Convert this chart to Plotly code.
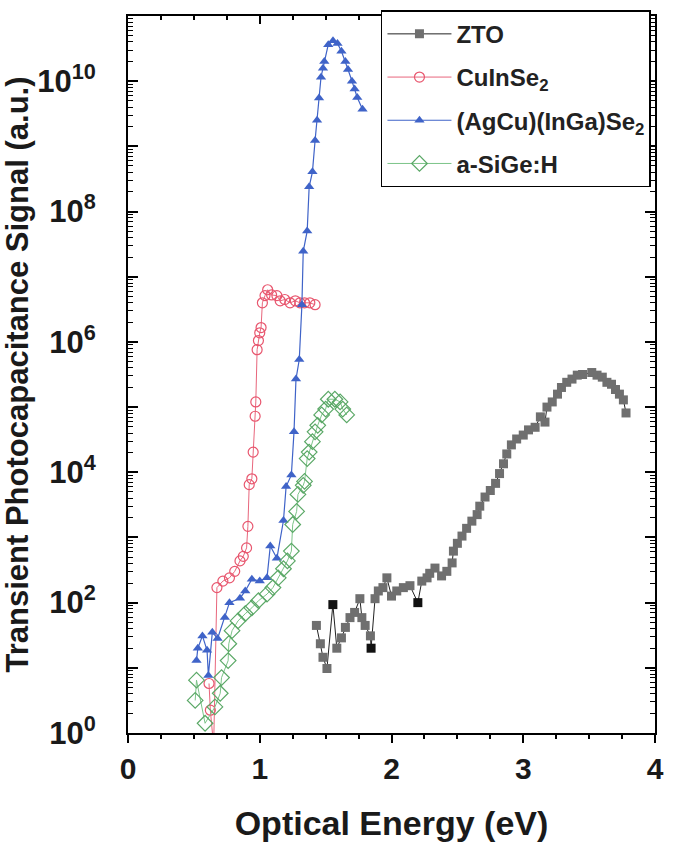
import plotly.graph_objects as go

# ---------------- data ----------------
zto_x = [1.43, 1.46, 1.48, 1.51, 1.555, 1.585, 1.62, 1.65, 1.685, 1.72, 1.76, 1.775, 1.80, 1.84,
         1.845, 1.875, 1.90, 1.935, 1.965, 2.0, 2.04, 2.09, 2.14, 2.20, 2.23, 2.27, 2.29, 2.33,
         2.38, 2.42, 2.46, 2.47, 2.50, 2.535, 2.57, 2.61, 2.65, 2.67, 2.71, 2.75, 2.79, 2.82,
         2.85, 2.875, 2.91, 2.95, 3.0, 3.04, 3.09, 3.13, 3.165, 3.18, 3.22, 3.26, 3.29, 3.33,
         3.37, 3.41, 3.45, 3.52, 3.56, 3.60, 3.635, 3.67, 3.70, 3.73, 3.76, 3.78]
zto_y = [44.7, 23.4, 14.5, 9.77, 93.3, 20.0, 28.8, 41.7, 58.9, 70.8, 115, 58.9, 44.7, 30.9,
         20.0, 115, 151, 170, 240, 126, 151, 170, 182, 100, 214, 240, 282, 339,
         257, 302, 407, 617, 813, 1050, 1380, 1780, 2240, 3020, 4170, 5250, 6760, 9550,
         1.35e4, 1.91e4, 2.63e4, 3.24e4, 3.72e4, 4.47e4, 4.90e4, 7.08e4, 5.89e4, 1.0e5, 1.20e5, 1.58e5, 2.0e5, 2.40e5,
         2.69e5, 3.09e5, 3.16e5, 3.39e5, 3.09e5, 2.88e5, 2.40e5, 2.24e5, 1.86e5, 1.58e5, 1.29e5, 8.13e4]
zto_dark_points = [4, 14, 23]  # indices of the darker squares

cis_x = [0.615, 0.625, 0.65, 0.675, 0.72, 0.77, 0.81, 0.85, 0.875, 0.90, 0.91, 0.92, 0.94, 0.95,
         0.965, 0.97, 0.98, 0.99, 1.0, 1.01, 1.02, 1.04, 1.06, 1.09, 1.13, 1.155, 1.19, 1.23,
         1.27, 1.305, 1.34, 1.38, 1.42]
cis_y = [5.75, 2.24, 0.63, 170, 214, 240, 302, 437, 513, 692, 1480, 6460, 7940, 2.04e4,
         7.24e4, 1.20e5, 7.59e5, 1.05e6, 1.38e6, 1.66e6, 3.98e6, 5.13e6, 6.31e6, 5.25e6, 5.13e6, 4.27e6, 4.47e6, 3.98e6,
         4.27e6, 3.98e6, 3.98e6, 3.98e6, 3.72e6]

acigs_x = [0.52, 0.53, 0.565, 0.60, 0.61, 0.64, 0.68, 0.735, 0.77, 0.85, 0.89, 0.94, 1.0, 1.055,
           1.08, 1.13, 1.18, 1.20, 1.24, 1.26, 1.275, 1.30, 1.32, 1.33, 1.36, 1.375, 1.40, 1.42,
           1.435, 1.45, 1.465, 1.48, 1.49, 1.52, 1.556, 1.59, 1.62, 1.65, 1.67, 1.70, 1.72, 1.74, 1.78]
acigs_y = [12.9, 20.0, 30.9, 18.6, 7.6, 35.0, 28.2, 58.9, 100, 117, 151, 229, 214, 240,
           741, 479, 1820, 6030, 9120, 4.17e4, 2.69e5, 5.37e5, 3.72e6, 2.45e7, 5.01e7, 2.40e8, 4.07e8, 1.23e9,
           2.51e9, 5.50e9, 1.15e10, 1.58e10, 2.0e10, 3.63e10, 4.17e10, 3.80e10, 2.88e10, 2.0e10, 1.51e10, 1.0e10, 7.59e9, 5.62e9, 3.72e9]

asige_x = [0.51, 0.52, 0.585, 0.66, 0.70, 0.71, 0.76, 0.765, 0.79, 0.835, 0.89, 0.94, 0.99, 1.055,
           1.10, 1.14, 1.18, 1.21, 1.24, 1.25, 1.28, 1.29, 1.33, 1.34, 1.36, 1.375, 1.40, 1.42,
           1.44, 1.47, 1.50, 1.52, 1.57, 1.61, 1.63, 1.66]
asige_y = [3.16, 6.46, 1.41, 2.51, 4.07, 7.08, 12.9, 23.4, 37.2, 52.5, 67.6, 83.2, 107, 135,
           170, 240, 331, 437, 617, 1580, 2510, 4570, 6310, 7240, 1.62e4, 2.04e4, 2.95e4, 4.17e4,
           5.25e4, 7.59e4, 9.33e4, 1.32e5, 1.32e5, 1.20e5, 9.33e4, 7.59e4]

series_names = ["ZTO", "CuInSe<sub>2</sub>", "(AgCu)(InGa)Se<sub>2</sub>", "a-SiGe:H"]
x_ticks = [0, 1, 2, 3, 4]
y_exponents = list(range(0, 12))

# ---------------- figure ----------------
FONT = "Liberation Sans, Arial, Helvetica, sans-serif"

fig = go.Figure()

zto_colors = ["#111111" if i in zto_dark_points else "#6f6f6f" for i in range(len(zto_x))]

fig.add_trace(go.Scatter(
    x=zto_x, y=zto_y, mode="lines+markers", name=series_names[0], legendgroup="a",
    line=dict(color="#222222", width=1),
    marker=dict(symbol="square", size=9, color=zto_colors, line=dict(width=0)),
))
fig.add_trace(go.Scatter(
    x=cis_x, y=cis_y, mode="lines+markers", name=series_names[1], legendgroup="b",
    line=dict(color="#e8667c", width=1),
    marker=dict(symbol="circle-open", size=10, color="#e8566e", line=dict(width=1.2)),
))
fig.add_trace(go.Scatter(
    x=acigs_x, y=acigs_y, mode="lines+markers", name=series_names[2], legendgroup="c",
    line=dict(color="#3f63c8", width=1.2),
    marker=dict(symbol="triangle-up", size=9, color="#3f63c8", line=dict(width=0)),
))
fig.add_trace(go.Scatter(
    x=asige_x, y=asige_y, mode="lines+markers", name=series_names[3], legendgroup="d",
    line=dict(color="#7cc488", width=1),
    marker=dict(symbol="diamond-open", size=12, color="#5aa866", line=dict(width=1.2)),
))
# empty trace to realise the top (mirrored) x axis with inward ticks
fig.add_trace(go.Scatter(x=[], y=[], xaxis="x2", showlegend=False, hoverinfo="skip"))

y_tickvals = [10 ** e for e in y_exponents]
y_ticktext = [("10<sup>%d</sup>" % e) if e % 2 == 0 else "" for e in y_exponents]
y_minor = [k * 10 ** e for e in y_exponents[:-1] for k in range(2, 10)]

fig.update_layout(
    width=683, height=846,
    margin=dict(l=128, r=28, t=10, b=113),
    paper_bgcolor="white", plot_bgcolor="white",
    font=dict(family=FONT, color="#1a1a1a", weight="bold"),
    showlegend=True,
    legend=dict(
        x=0.48, y=1.008, xanchor="left", yanchor="top",
        bgcolor="white", bordercolor="black", borderwidth=1.5,
        font=dict(family=FONT, size=24, color="#222222", weight="bold"),
        traceorder="grouped", tracegroupgap=9, itemwidth=64,
    ),
    xaxis=dict(
        range=[0, 4], tickvals=x_ticks, ticks="outside", ticklen=8, tickwidth=2,
        tickcolor="black", showline=True, linewidth=2, linecolor="black", mirror=True,
        showgrid=False, zeroline=False,
        tickfont=dict(family=FONT, size=30, color="#1a1a1a", weight="bold"),
        minor=dict(dtick=0.25, ticks="outside", ticklen=4, tickwidth=1.5, tickcolor="black"),
        title=dict(text="Optical Energy (eV)", standoff=27,
                   font=dict(family=FONT, size=34, color="#1a1a1a", weight="bold")),
    ),
    xaxis2=dict(
        range=[0, 4], overlaying="x", side="top", tickvals=x_ticks, ticks="inside",
        ticklen=8, tickwidth=2, tickcolor="black", showticklabels=False,
        showgrid=False, zeroline=False,
        minor=dict(dtick=0.25, ticks="inside", ticklen=4, tickwidth=1.5, tickcolor="black"),
    ),
    yaxis=dict(
        type="log", range=[0, 11], tickvals=y_tickvals, ticktext=y_ticktext,
        ticks="inside", ticklen=10, tickwidth=2, tickcolor="black",
        showline=True, linewidth=2, linecolor="black", mirror="ticks",
        showgrid=False, zeroline=False, ticklabelstandoff=24,
        tickfont=dict(family=FONT, size=31, color="#1a1a1a", weight="bold"),
        minor=dict(tickvals=y_minor, ticks="inside", ticklen=5, tickwidth=1.2, tickcolor="black"),
        title=dict(text="Transient Photocapacitance Signal (a.u.)", standoff=2,
                   font=dict(family=FONT, size=31, color="#1a1a1a", weight="bold")),
    ),
)

fig.write_html("out.html")
